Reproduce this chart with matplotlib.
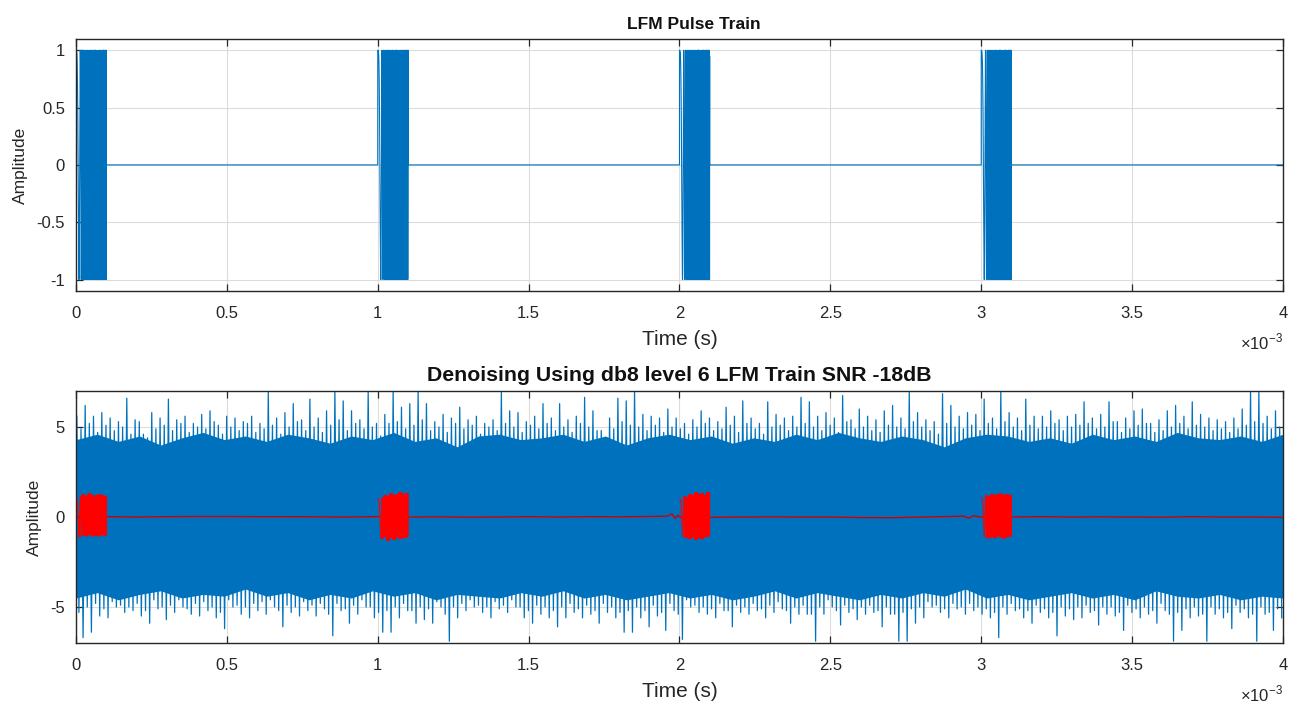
import numpy as np
import matplotlib
matplotlib.use("Agg")
import matplotlib.pyplot as plt
from matplotlib.ticker import FuncFormatter

# ---------------- data ----------------
pulse_starts_ms = [0.0, 1.0, 2.0, 3.0]
pulse_width_ms = 0.1
chirp_bandwidth_hz = 1e6
sample_rate_hz = 20e6
signal_duration_ms = 4.0

# noisy signal: per-bin spike tips (145 bins over 4 ms)
noise_top = [
    5.6, 6.2, 5.6, 5.8, 5.5, 5.3, 6.6, 5.4, 4.6, 5.8, 5.5, 6.55, 5.4, 5.6, 5.2, 5.7, 5.9, 5.1, 5.6, 5.5,
    5.3, 5.6, 5.2, 7.0, 5.5, 5.8, 6.3, 5.4, 6.55, 5.5,
    5.9, 7.0, 6.45, 5.9, 5.4, 7.0, 5.2, 5.7, 7.0, 6.1, 6.3, 7.0, 6.3, 5.3, 5.7, 5.5, 6.1, 5.4, 5.6, 5.2,
    5.4, 7.0, 5.9, 5.8, 5.3, 5.6, 6.3, 5.5,
    6.3, 5.4, 5.6, 6.65, 5.9, 4.8, 5.5, 6.6, 6.45, 7.05, 5.7, 5.6, 5.5, 6.0, 5.5, 5.2, 5.4, 5.9, 5.5, 5.3,
    6.1, 5.6, 6.45, 5.5, 5.2, 6.4, 5.7, 5.5, 5.6,
    6.65, 6.4, 5.6, 5.8, 5.5, 6.75, 5.4, 6.0, 5.6, 5.4, 5.9, 6.2, 5.5, 7.0, 5.8, 5.4, 5.3, 6.85, 6.2, 5.6,
    5.8, 5.7, 6.55, 5.5, 7.0, 5.8, 5.5, 6.55, 5.6,
    5.6, 5.9, 5.4, 5.6, 5.7, 6.4, 5.5, 5.7, 6.4, 5.3, 5.5, 5.9, 6.0, 5.2, 5.4, 5.9, 6.2, 5.6, 6.4, 5.7,
    5.5, 5.4, 5.3, 5.5, 6.0, 7.05, 7.05, 5.6, 5.9,
]
noise_bottom = [
    -6.7, -6.4, -5.5, -5.6, -5.0, -5.3, -5.2, -5.5, -5.9, -5.1, -5.7, -5.3, -5.0, -5.4, -5.5, -5.2, -5.6, -6.2, -5.0, -5.4,
    -5.6, -5.2, -5.4, -5.0, -6.1, -5.3, -5.5, -5.2, -5.5, -5.1,
    -6.6, -5.2, -5.9, -5.4, -5.0, -5.6, -6.4, -6.4, -5.6, -5.2, -5.9, -5.7, -5.9, -5.0, -6.9, -5.6, -5.2, -5.0, -5.3, -5.6,
    -5.1, -5.3, -5.0, -5.6, -5.9, -5.4, -5.6, -6.1,
    -5.6, -5.3, -5.6, -5.4, -5.9, -5.3, -5.6, -6.4, -6.4, -5.6, -6.1, -5.5, -6.3, -5.2, -6.8, -5.0, -5.3, -5.4, -5.6, -5.2,
    -6.1, -5.3, -5.4, -5.2, -5.6, -5.3, -5.1, -5.9, -5.4,
    -5.4, -6.9, -5.4, -5.0, -6.0, -5.3, -5.7, -5.4, -5.3, -6.1, -5.4, -6.9, -6.9, -5.9, -5.6, -5.0, -5.3, -5.6, -5.1, -5.4,
    -5.2, -5.4, -5.6, -6.7, -5.4, -5.2, -5.6, -5.9, -5.3,
    -5.6, -6.6, -5.5, -5.7, -5.6, -5.3, -6.0, -5.4, -5.5, -6.3, -5.3, -5.6, -5.4, -5.9, -5.2, -6.9, -6.3, -5.6, -5.5, -6.9,
    -5.4, -5.6, -6.2, -5.3, -5.6, -6.9, -5.4, -6.3, -5.6,
]
# secondary (shorter) spikes in the fringe of the band, one per bin
noise_top2 = [
    4.9, 5.2, 4.7, 5.1, 4.8, 5.0, 4.6, 5.3, 4.4, 4.9, 5.1, 4.8, 5.2, 4.7, 5.0, 4.9, 5.3, 4.6, 5.0, 4.8,
    5.2, 4.7, 4.9, 5.1, 4.6, 5.0, 5.3, 4.8, 5.0, 4.7,
    5.1, 5.4, 4.8, 5.2, 4.9, 5.0, 4.5, 5.2, 5.3, 4.9, 5.1, 5.4, 4.8, 5.0, 4.7, 5.2, 4.9, 5.1, 4.6, 5.0,
    4.8, 5.2, 5.0, 4.7, 5.1, 4.9, 5.2, 4.8,
    5.0, 4.7, 5.2, 5.0, 4.8, 4.3, 4.9, 5.3, 5.1, 5.0, 4.8, 5.1, 4.7, 5.0, 4.9, 4.6, 5.0, 5.2, 4.8, 4.9,
    5.1, 4.7, 5.2, 4.9, 4.6, 5.0, 5.1, 4.8, 5.0,
    5.2, 5.0, 4.8, 5.1, 4.7, 5.3, 4.9, 5.0, 4.8, 4.7, 5.1, 5.0, 4.9, 5.3, 5.0, 4.8, 4.6, 5.2, 5.0, 4.9,
    5.1, 4.8, 5.2, 4.9, 5.3, 5.0, 4.8, 5.1, 4.9,
    5.0, 5.2, 4.8, 5.0, 5.1, 5.2, 4.9, 5.0, 5.3, 4.7, 4.9, 5.1, 5.2, 4.7, 4.8, 5.0, 5.2, 4.9, 5.1, 5.0,
    4.8, 4.9, 4.7, 4.9, 5.1, 5.3, 5.2, 4.9, 5.0,
]
noise_bottom2 = [
    -5.3, -5.0, -4.8, -5.1, -4.7, -4.9, -5.0, -4.8, -5.2, -4.6, -5.0, -4.9, -4.6, -5.1, -4.8, -4.7, -5.0, -5.3, -4.6, -4.9,
    -5.0, -4.8, -4.7, -4.6, -5.2, -4.9, -5.0, -4.7, -4.9, -4.8,
    -5.4, -4.8, -5.1, -4.9, -4.6, -5.0, -5.3, -5.2, -5.0, -4.8, -5.2, -5.0, -5.1, -4.7, -5.4, -5.0, -4.8, -4.6, -4.9, -5.0,
    -4.7, -4.9, -4.6, -5.0, -5.2, -4.9, -5.0, -5.2,
    -5.0, -4.8, -5.1, -4.9, -5.2, -4.8, -5.0, -5.3, -5.2, -5.0, -5.2, -4.9, -5.3, -4.8, -5.4, -4.6, -4.9, -5.0, -5.1, -4.8,
    -5.2, -4.9, -5.0, -4.8, -5.1, -4.9, -4.7, -5.2, -5.0,
    -4.9, -5.4, -5.0, -4.6, -5.2, -4.9, -5.1, -5.0, -4.9, -5.2, -5.0, -5.4, -5.3, -5.1, -5.0, -4.7, -4.9, -5.1, -4.8, -5.0,
    -4.8, -5.0, -5.1, -5.3, -5.0, -4.8, -5.1, -5.2, -4.9,
    -5.1, -5.3, -5.0, -5.1, -5.0, -4.9, -5.2, -5.0, -5.0, -5.3, -4.9, -5.1, -5.0, -5.2, -4.8, -5.4, -5.3, -5.1, -5.0, -5.4,
    -5.0, -5.1, -5.3, -4.9, -5.1, -5.4, -5.0, -5.3, -5.1,
]
# dense core of the noise band (every 2.5 bins)
noise_core_top = [4.3, 4.6, 4.2, 4.5, 4.0, 4.4, 4.7, 4.3, 4.5, 4.2, 4.6, 4.4, 4.1, 4.5, 4.3,
                  4.7, 4.2, 4.4, 3.9, 4.5, 4.6, 4.3, 4.4, 4.6, 4.2, 4.5, 4.0, 4.4, 4.6, 4.3,
                  4.5, 4.1, 4.4, 4.2, 4.6, 4.3, 4.7, 4.4, 4.2, 4.5, 4.3, 3.9, 4.4, 4.6, 4.5,
                  4.2, 4.4, 4.1, 4.6, 4.3, 4.5, 4.2, 4.7, 4.4, 4.3, 4.5, 4.2, 4.6]
noise_core_bottom = [-4.5, -4.2, -4.6, -4.3, -4.1, -4.5, -4.3, -4.4, -4.0, -4.4, -4.2, -4.6, -4.3, -4.5, -4.1,
                     -4.4, -4.2, -4.6, -4.3, -4.4, -4.5, -4.2, -4.4, -4.1, -4.5, -4.3, -4.6, -4.4, -4.2, -4.5,
                     -4.3, -4.6, -4.4, -4.1, -4.5, -4.2, -4.4, -4.6, -4.3, -4.5, -4.2, -4.4, -4.0, -4.5, -4.3,
                     -4.6, -4.4, -4.2, -4.5, -4.3, -4.6, -4.1, -4.4, -4.5, -4.3, -4.6, -4.4, -4.5]

# denoised (red) signal: per-pulse envelope (10 steps), top and bottom
red_env_top = [
    [1.0, 1.1, 1.25, 1.15, 1.3, 1.2, 1.1, 1.25, 1.2, 1.15],
    [1.0, 1.05, 1.2, 1.15, 1.3, 1.2, 1.25, 1.35, 1.2, 1.3],
    [1.0, 1.15, 1.1, 1.25, 1.2, 1.35, 1.25, 1.3, 1.2, 1.35],
    [1.05, 1.2, 1.15, 1.25, 1.2, 1.25, 1.28, 1.2, 1.25, 1.2],
]
red_env_bottom = [
    [0.9, 1.1, 1.0, 1.05, 0.95, 1.05, 1.0, 1.05, 0.95, 1.0],
    [1.0, 1.2, 1.1, 1.3, 1.15, 1.25, 1.1, 1.2, 1.15, 1.1],
    [0.9, 1.1, 1.15, 1.2, 1.1, 1.25, 1.15, 1.2, 1.1, 1.05],
    [1.0, 1.1, 1.17, 1.1, 1.15, 1.05, 1.1, 1.17, 1.1, 1.05],
]
red_base_t_ms = [0.0, 0.1, 0.2, 0.3, 0.4, 0.5, 0.6, 0.7, 0.8, 0.9, 1.0, 1.1, 1.2, 1.3, 1.4, 1.5, 1.6, 1.7,
                 1.8, 1.9, 1.96, 1.975, 1.985, 1.995, 2.0, 2.1, 2.2, 2.3, 2.4, 2.5, 2.6, 2.7, 2.8, 2.9,
                 2.94, 2.96, 2.975, 2.99, 3.0, 3.1, 3.2, 3.3, 3.4, 3.5, 3.6, 3.7, 3.8, 3.9, 4.0]
red_base_v = [0.0, 0.02, 0.0, 0.02, 0.03, 0.03, 0.02, 0.02, 0.01, 0.0, 0.02, 0.0, 0.01, -0.01, 0.0, 0.02,
              0.0, 0.02, 0.01, 0.03, 0.05, 0.18, -0.08, 0.1, 0.0, -0.02, 0.0, 0.01, 0.0, 0.0, -0.03, -0.04,
              0.0, 0.03, 0.05, -0.06, 0.08, 0.02, 0.0, 0.0, 0.02, 0.0, 0.01, 0.0, -0.01, 0.02, 0.0, 0.0, -0.02]

x_ticks = [0, 0.5, 1, 1.5, 2, 2.5, 3, 3.5, 4]
top_y_ticks = [-1, -0.5, 0, 0.5, 1]
bottom_y_ticks = [-5, 0, 5]

# ---------------- build signals ----------------
fs = sample_rate_hz
t = np.arange(0, signal_duration_ms * 1e-3, 1 / fs)
w = pulse_width_ms * 1e-3
k = chirp_bandwidth_hz / w
clean = np.zeros_like(t)
for s in pulse_starts_ms:
    m = (t >= s * 1e-3) & (t < s * 1e-3 + w)
    clean[m] = np.cos(np.pi * k * (t[m] - s * 1e-3) ** 2)

nb = len(noise_top)
dt_bin = signal_duration_ms * 1e-3 / nb
tb = np.arange(nb) * dt_bin
zig_t = np.empty(4 * nb)
zig_v = np.empty(4 * nb)
zig_t[0::4] = tb + 0.10 * dt_bin
zig_t[1::4] = tb + 0.35 * dt_bin
zig_t[2::4] = tb + 0.60 * dt_bin
zig_t[3::4] = tb + 0.85 * dt_bin
zig_v[0::4] = noise_top
zig_v[1::4] = noise_bottom2
zig_v[2::4] = noise_top2
zig_v[3::4] = noise_bottom
t_core = np.linspace(0, signal_duration_ms * 1e-3, len(noise_core_top))

BLUE = "#0072BD"
plt.rcParams["font.family"] = ["Liberation Sans", "DejaVu Sans"]
plt.rcParams["mathtext.fontset"] = "custom"
plt.rcParams["mathtext.rm"] = "Liberation Sans"

fig = plt.figure(figsize=(12.97, 7.04), dpi=100)
ax1 = fig.add_axes([0.0586, 0.5866, 0.9306, 0.3583])
ax2 = fig.add_axes([0.0586, 0.0866, 0.9306, 0.3580])

ms_fmt = FuncFormatter(lambda v, _: f"{v * 1e3:g}")


def style(ax, yticks, ylim, title, title_size, title_x):
    ax.set_xlim(0, 4e-3)
    ax.set_ylim(*ylim)
    ax.set_xticks([x * 1e-3 for x in x_ticks])
    ax.xaxis.set_major_formatter(ms_fmt)
    ax.set_yticks(yticks)
    ax.yaxis.set_major_formatter(FuncFormatter(lambda v, _: f"{v:g}"))
    ax.grid(True, color="#DCDCDC", linewidth=0.8)
    ax.set_axisbelow(True)
    ax.tick_params(direction="in", length=5, width=0.9, top=True, right=True,
                   labelsize=12, colors="#262626")
    ax.tick_params(axis="x", pad=11)
    ax.tick_params(axis="y", pad=8)
    for sp in ax.spines.values():
        sp.set_color("#262626")
        sp.set_linewidth(1.0)
    ax.set_xlabel("Time (s)", fontsize=15, color="#262626", labelpad=6)
    ax.set_ylabel("Amplitude", fontsize=12.5, color="#262626", labelpad=6)
    ax.set_title(title, fontsize=title_size, fontweight="bold", color="#111111", pad=7, x=title_x)
    ax.text(1.0, -0.245, r"$\times10^{-3}$", transform=ax.transAxes, ha="right", va="bottom",
            fontsize=12, color="#262626")


ax1.plot(t, clean, color=BLUE, linewidth=0.8)
style(ax1, top_y_ticks, (-1.1, 1.1), "LFM Pulse Train", 12.5, 0.512)

ax2.fill_between(t_core, noise_core_bottom, noise_core_top, color=BLUE, linewidth=0)
ax2.plot(zig_t, zig_v, color=BLUE, linewidth=0.9)
ax2.plot(np.array(red_base_t_ms) * 1e-3, red_base_v, color="#D00000", linewidth=1.0)
for i, s in enumerate(pulse_starts_ms):
    m = (t >= s * 1e-3) & (t < s * 1e-3 + w)
    c = clean[m]
    seg = np.minimum((np.arange(c.size) * 10) // c.size, 9)
    up = np.array(red_env_top[i])[seg]
    dn = np.array(red_env_bottom[i])[seg]
    red = np.where(c > 0, c * up, c * dn)
    ax2.plot(t[m], red, color="red", linewidth=0.8)
style(ax2, bottom_y_ticks, (-7, 7), "Denoising Using db8 level 6 LFM Train SNR -18dB", 15.3, 0.5)

fig.savefig("out.png", dpi=100)
